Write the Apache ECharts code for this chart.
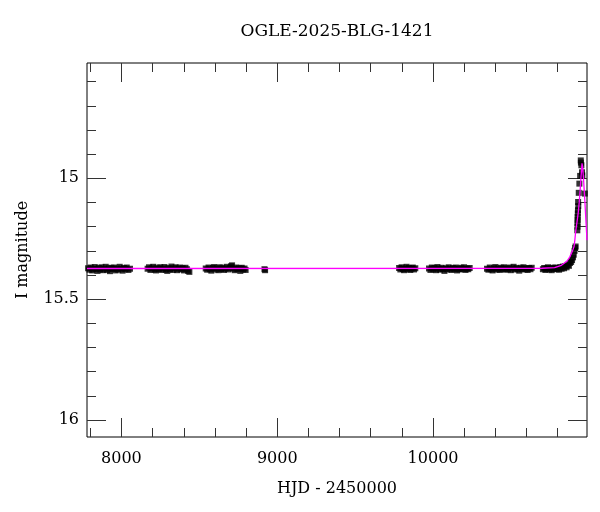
<!DOCTYPE html>
<html>
<head>
<meta charset="utf-8">
<script src="https://cdn.jsdelivr.net/npm/echarts@6/dist/echarts.min.js"></script>
<style>html,body{margin:0;padding:0;background:#fff}#c{width:600px;height:512px}</style>
</head>
<body>
<div id="c"></div>
<script>
const titleText = 'OGLE-2025-BLG-1421';
const xName = 'HJD - 2450000';
const yName = 'I magnitude';
const xMin = 7779, xMax = 10988;
const yMin = 14.523, yMax = 16.07;
const xMajorTicks = [8000, 9000, 10000];
const xMinorTicks = [7800, 8200, 8400, 8600, 8800, 9200, 9400, 9600, 9800, 10200, 10400, 10600, 10800];
const yMajorTicks = [15, 15.5, 16];
const yMinorTicks = [14.6, 14.7, 14.8, 14.9, 15.1, 15.2, 15.3, 15.4, 15.6, 15.7, 15.8, 15.9];

const season1 = [[7786,15.372],[7795,15.378],[7803,15.369],[7812,15.381],[7820,15.374],[7829,15.367],[7838,15.376],[7846,15.383],[7855,15.371],[7864,15.377],[7872,15.368],[7881,15.380],[7890,15.374],[7899,15.366],[7908,15.379],[7917,15.372],[7926,15.384],[7935,15.370],[7944,15.375],[7953,15.369],[7962,15.381],[7971,15.373],[7980,15.378],[7989,15.366],[7998,15.374],[8007,15.382],[8016,15.371],[8025,15.376],[8034,15.369],[8045,15.379],[8055,15.374]];
const season2 = [[8168,15.374],[8177,15.368],[8186,15.379],[8195,15.372],[8204,15.366],[8213,15.377],[8222,15.381],[8231,15.370],[8240,15.375],[8249,15.368],[8258,15.379],[8267,15.373],[8276,15.367],[8285,15.378],[8294,15.383],[8303,15.371],[8312,15.376],[8321,15.365],[8330,15.379],[8339,15.372],[8348,15.368],[8357,15.380],[8366,15.374],[8375,15.369],[8384,15.377],[8393,15.372],[8402,15.381],[8411,15.370],[8420,15.376],[8428,15.383],[8436,15.387]];
const season3 = [[8541,15.373],[8550,15.378],[8559,15.369],[8568,15.376],[8577,15.382],[8586,15.371],[8595,15.367],[8604,15.377],[8613,15.372],[8622,15.380],[8631,15.368],[8640,15.375],[8649,15.370],[8658,15.379],[8667,15.373],[8676,15.366],[8685,15.377],[8694,15.371],[8703,15.364],[8710,15.360],[8718,15.374],[8727,15.380],[8736,15.369],[8745,15.376],[8754,15.372],[8763,15.383],[8772,15.370],[8781,15.377],[8790,15.373],[8797,15.379]];
const season4 = [[8918,15.376],[8922,15.380]];
const season5 = [[9782,15.371],[9790,15.377],[9798,15.368],[9806,15.375],[9814,15.380],[9822,15.372],[9830,15.366],[9838,15.376],[9846,15.371],[9854,15.379],[9862,15.373],[9870,15.369],[9878,15.377],[9886,15.372]];
const season6 = [[9974,15.373],[9983,15.379],[9992,15.369],[10001,15.376],[10010,15.371],[10019,15.380],[10028,15.367],[10037,15.374],[10046,15.378],[10055,15.370],[10064,15.375],[10073,15.383],[10082,15.372],[10091,15.377],[10100,15.368],[10109,15.374],[10118,15.379],[10127,15.371],[10136,15.376],[10145,15.369],[10154,15.381],[10163,15.373],[10172,15.377],[10181,15.370],[10190,15.375],[10199,15.368],[10208,15.379],[10217,15.373],[10226,15.376],[10235,15.371]];
const season7 = [[10346,15.374],[10355,15.378],[10364,15.369],[10373,15.376],[10382,15.381],[10391,15.372],[10400,15.367],[10409,15.377],[10418,15.373],[10427,15.379],[10436,15.370],[10445,15.375],[10454,15.368],[10463,15.378],[10472,15.372],[10481,15.376],[10490,15.369],[10499,15.380],[10508,15.373],[10517,15.366],[10526,15.377],[10535,15.371],[10544,15.376],[10553,15.382],[10562,15.370],[10571,15.375],[10580,15.368],[10589,15.377],[10598,15.372],[10607,15.379],[10616,15.371],[10625,15.376],[10633,15.370]];
const season8 = [[10705,15.376],[10713,15.371],[10721,15.379],[10729,15.373],[10737,15.368],[10745,15.377],[10753,15.372],[10761,15.380],[10769,15.370],[10777,15.375],[10785,15.369],[10793,15.376],[10801,15.371],[10809,15.378],[10817,15.367],[10825,15.374],[10833,15.365],[10841,15.372],[10849,15.363],[10857,15.368],[10865,15.358],[10872,15.362],[10879,15.350],[10886,15.346],[10892,15.338],[10898,15.327],[10903,15.316],[10908,15.300],[10912,15.288],[10915,15.282],
  [10926,15.215],[10927,15.200],[10927,15.185],[10928,15.172],[10928,15.160],[10929,15.145],[10930,15.132],[10931,15.098],[10932,15.115],[10935,15.060],[10939,15.022],[10944,14.990],[10948,14.926],[10949,14.935],[10952,14.946],[10956,14.975],[10958,14.988],[10974,15.063]];
const model = [[7779,15.373],[10700,15.372],[10780,15.369],[10824,15.360],[10860,15.342],[10877,15.326],[10895,15.300],[10905,15.282],[10910,15.255],[10916,15.216],[10924,15.180],[10931,15.146],[10938,15.100],[10944,15.050],[10950,14.990],[10953,14.967],[10956,14.938],[10960,14.955],[10965,14.995],[10974,15.091],[10982,15.186],[10988,15.256]];

const FONT = 'DejaVu Serif';
const photometry = [].concat(season1, season2, season3, season4, season5, season6, season7, season8);

function xAx(pos, ticks, len, labels, extra) {
  return Object.assign({
    type: 'value', position: pos, min: xMin, max: xMax,
    axisLine: { show: false },
    splitLine: { show: false },
    axisTick: { show: true, inside: true, length: len, customValues: ticks, lineStyle: { color: '#333', width: 1 } },
    axisLabel: labels ? { show: true, customValues: ticks, formatter: v => String(v), fontFamily: FONT, fontSize: 16, color: '#000', margin: 14 } : { show: false }
  }, extra || {});
}
function yAx(pos, ticks, len, labels, extra) {
  return Object.assign({
    type: 'value', position: pos, min: yMin, max: yMax, inverse: true,
    axisLine: { show: false },
    splitLine: { show: false },
    axisTick: { show: true, inside: true, length: len, customValues: ticks, lineStyle: { color: '#333', width: 1 } },
    axisLabel: labels ? { show: true, customValues: ticks, formatter: v => String(v), fontFamily: FONT, fontSize: 16, color: '#000', margin: 8 } : { show: false }
  }, extra || {});
}

const chart = echarts.init(document.getElementById('c'), null, { renderer: 'canvas' });
chart.setOption({
  animation: false,
  backgroundColor: '#fff',
  grid: { left: 87, right: 13, top: 63, bottom: 75, show: true, borderColor: '#000', borderWidth: 1, backgroundColor: 'transparent' },
  graphic: [{ type: 'text', x: 337, y: 32, style: { text: titleText, textAlign: 'center', textVerticalAlign: 'middle', font: '17px "DejaVu Serif"', fill: '#000' } }],
  xAxis: [
    xAx('bottom', xMajorTicks, 19, true, { name: xName, nameLocation: 'middle', nameGap: 44, nameTextStyle: { fontFamily: FONT, fontSize: 16, color: '#000' } }),
    xAx('bottom', xMinorTicks, 9, false),
    xAx('top', xMajorTicks, 19, false),
    xAx('top', xMinorTicks, 9, false)
  ],
  yAxis: [
    yAx('left', yMajorTicks, 19, true, { name: yName, nameLocation: 'middle', nameGap: 56, nameRotate: 90, nameTextStyle: { fontFamily: FONT, fontSize: 16, color: '#000' } }),
    yAx('left', yMinorTicks, 9, false),
    yAx('right', yMajorTicks, 19, false),
    yAx('right', yMinorTicks, 9, false)
  ],
  series: [
    { type: 'scatter', xAxisIndex: 0, yAxisIndex: 0, data: photometry, symbol: 'rect', symbolSize: 6, itemStyle: { color: '#000' }, z: 2 },
    { type: 'line', xAxisIndex: 0, yAxisIndex: 0, data: model, showSymbol: false, symbol: 'none', lineStyle: { color: '#ff00ff', width: 1.3 }, clip: true, z: 3 }
  ]
});
</script>
</body>
</html>
